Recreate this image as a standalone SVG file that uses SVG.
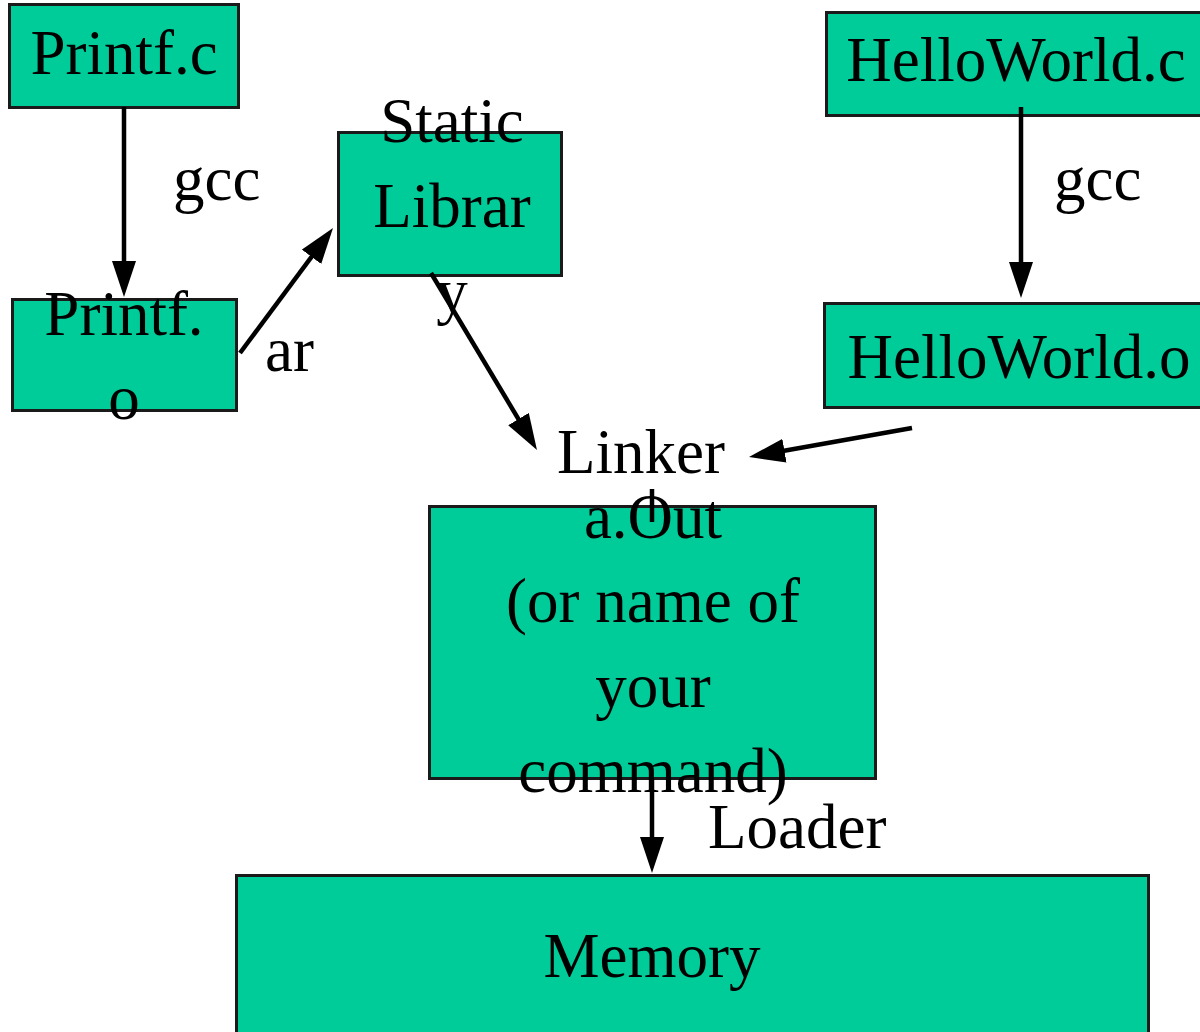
<svg xmlns="http://www.w3.org/2000/svg" width="1200" height="1032" viewBox="0 0 1200 1032">
<style>
.box{fill:#00CC99;stroke:#1a1a1a;stroke-width:3}
.t{font-family:"Liberation Serif","Times New Roman",serif;font-size:63px;fill:#000}
.m{text-anchor:middle}
.c{stroke:#000;stroke-width:4.5;fill:none}
.a{marker-end:url(#ah)}
</style>
<defs>
<marker id="ah" markerUnits="userSpaceOnUse" viewBox="0 0 36 24" refX="16" refY="12" markerWidth="36" markerHeight="24" orient="auto">
<path d="M0,0 L36,12 L0,24 z" fill="#000"/>
</marker>
</defs>
<rect width="1200" height="1032" fill="#fff"/>
<g id="printf-c"><rect class="box" x="9.5" y="4.5" width="229" height="103"/><text class="t m" x="124" y="74">Printf.c</text></g>
<g id="printf-o"><rect class="box" x="12.5" y="299.5" width="224" height="111"/><text class="t m" x="124" y="335">Printf.</text><text class="t m" x="124" y="419">o</text></g>
<g id="static-lib"><rect class="box" x="338.5" y="132.5" width="223" height="143"/><text class="t m" x="452" y="142">Static</text><text class="t m" x="452" y="227">Librar</text><text class="t m" x="452" y="312">y</text></g>
<g id="helloworld-c"><rect class="box" x="826.5" y="12.5" width="380" height="103"/><text class="t m" x="1016" y="81">HelloWorld.c</text></g>
<g id="helloworld-o"><rect class="box" x="824.5" y="303.5" width="380" height="104"/><text class="t m" x="1019" y="378">HelloWorld.o</text></g>
<g id="linker"><text class="t m" x="641" y="473">Linker</text></g>
<g id="aout"><rect class="box" x="429.5" y="506.5" width="446" height="272"/><text class="t m" x="653" y="538">a.Out</text><text class="t m" x="653" y="622">(or name of</text><text class="t m" x="653" y="707">your</text><text class="t m" x="653" y="792">command)</text></g>
<g id="memory"><rect class="box" x="236.5" y="875.5" width="912" height="170"/><text class="t m" x="652" y="977">Memory</text></g>
<g id="connectors">
<line class="c a" x1="124" y1="107" x2="124" y2="277"/>
<line class="c a" x1="240" y1="353" x2="321.1" y2="244"/>
<line class="c a" x1="431" y1="273" x2="526.7" y2="432.8"/>
<line class="c a" x1="1021" y1="107" x2="1021" y2="278"/>
<line class="c a" x1="912" y1="428" x2="768.7" y2="453.5"/>
<line class="c" x1="652" y1="489" x2="652" y2="522"/>
<line class="c a" x1="652" y1="779" x2="652" y2="853"/>
</g>
<g id="labels">
<text class="t" x="173" y="200">gcc</text>
<text class="t" x="1054" y="200">gcc</text>
<text class="t" x="265" y="371">ar</text>
<text class="t" x="708" y="848">Loader</text>
</g>
</svg>
